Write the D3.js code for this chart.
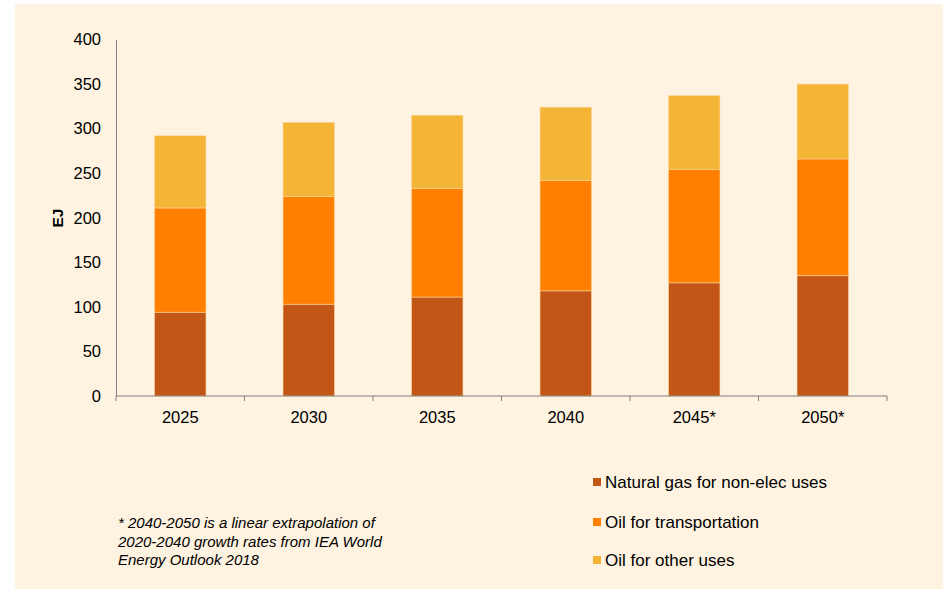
<!DOCTYPE html>
<html>
<head>
<meta charset="utf-8">
<script src="https://cdn.jsdelivr.net/npm/d3@7/dist/d3.min.js"></script>
<style>
  html, body { margin: 0; padding: 0; background: #ffffff; }
  svg { display: block; font-family: "Liberation Sans", Arial, sans-serif; }
</style>
</head>
<body>
<svg id="chart" width="948" height="590"></svg>
<script>
// Years shown on the x axis (starred years are extrapolated)
const years = ["2025", "2030", "2035", "2040", "2045*", "2050*"];

// Energy demand by use, EJ
const naturalGas = [94, 103, 111, 118, 127, 135];
const oilTransport = [117, 121, 122, 124, 127, 131];
const oilOther = [81, 83, 82, 82, 83, 84];

const seriesNames = ["Natural gas for non-elec uses", "Oil for transportation", "Oil for other uses"];
const seriesColors = ["#C25617", "#FF7F00", "#F4B436"];

const yTicks = [0, 50, 100, 150, 200, 250, 300, 350, 400];

const footnote = [
  "* 2040-2050 is a linear extrapolation of",
  "2020-2040 growth rates from IEA World",
  "Energy Outlook 2018"
];

const svg = d3.select("#chart");

// cream panel
svg.append("rect")
  .attr("x", 15).attr("y", 4)
  .attr("width", 928).attr("height", 585)
  .attr("fill", "#FEF3E1");

const plotLeft = 116, plotRight = 887, plotTop = 39.5, plotBottom = 396;

const x = d3.scaleBand().domain(years).range([plotLeft, plotRight]).paddingInner(0.6).paddingOuter(0.3);
const y = d3.scaleLinear().domain([0, 400]).range([plotBottom, plotTop]);

const rows = years.map((yr, i) => ({
  year: yr, gas: naturalGas[i], transport: oilTransport[i], other: oilOther[i]
}));
const keys = ["gas", "transport", "other"];
const stacked = d3.stack().keys(keys)(rows);

svg.append("g")
  .selectAll("g")
  .data(stacked)
  .join("g")
  .attr("fill", (d, i) => seriesColors[i])
  .selectAll("rect")
  .data(d => d)
  .join("rect")
  .attr("x", d => x(d.data.year))
  .attr("width", x.bandwidth())
  .attr("y", d => y(d[1]))
  .attr("height", d => y(d[0]) - y(d[1]))
  .attr("stroke", "rgba(255,214,160,0.7)")
  .attr("stroke-width", 0.8);

// y axis: line only, labels without tick marks
const yAxis = svg.append("g")
  .attr("transform", `translate(${plotLeft},0)`)
  .call(d3.axisLeft(y).tickValues(yTicks).tickSize(0).tickPadding(15));
yAxis.select(".domain").attr("stroke", "#7f7f7f").attr("stroke-width", 1);
yAxis.selectAll("text").attr("font-size", 16.5).attr("fill", "#000")
  .attr("font-family", "Liberation Sans, Arial, sans-serif");

// x axis with boundary ticks between categories
const xAxisG = svg.append("g").attr("transform", `translate(0,${plotBottom})`);
xAxisG.append("line")
  .attr("x1", plotLeft).attr("x2", plotRight)
  .attr("stroke", "#7f7f7f").attr("stroke-width", 1);
const boundaries = d3.range(years.length + 1).map(i => plotLeft + i * (plotRight - plotLeft) / years.length);
xAxisG.selectAll("line.tick")
  .data(boundaries)
  .join("line")
  .attr("class", "tick")
  .attr("x1", d => d).attr("x2", d => d)
  .attr("y1", 0).attr("y2", 5)
  .attr("stroke", "#7f7f7f");
xAxisG.selectAll("text")
  .data(years)
  .join("text")
  .attr("x", d => x(d) + x.bandwidth() / 2)
  .attr("y", 27)
  .attr("text-anchor", "middle")
  .attr("font-size", 16.5)
  .attr("fill", "#000")
  .text(d => d);

// y axis title
svg.append("text")
  .attr("transform", "translate(63,218) rotate(-90)")
  .attr("text-anchor", "middle")
  .attr("font-size", 15.5)
  .attr("font-weight", "bold")
  .attr("fill", "#000")
  .text("EJ");

// legend
const legend = svg.append("g");
const legendY = [482, 522, 560];
seriesNames.forEach((name, i) => {
  legend.append("rect")
    .attr("x", 593).attr("y", legendY[i] - 4)
    .attr("width", 8).attr("height", 8)
    .attr("fill", seriesColors[i]);
  legend.append("text")
    .attr("x", 605).attr("y", legendY[i] + 6)
    .attr("font-size", 17)
    .attr("fill", "#000")
    .text(name);
});

// footnote
svg.append("g").selectAll("text")
  .data(footnote)
  .join("text")
  .attr("x", 118)
  .attr("y", (d, i) => 528 + i * 18.5)
  .attr("font-size", 15)
  .attr("font-style", "italic")
  .attr("fill", "#000")
  .text(d => d);
</script>
</body>
</html>
